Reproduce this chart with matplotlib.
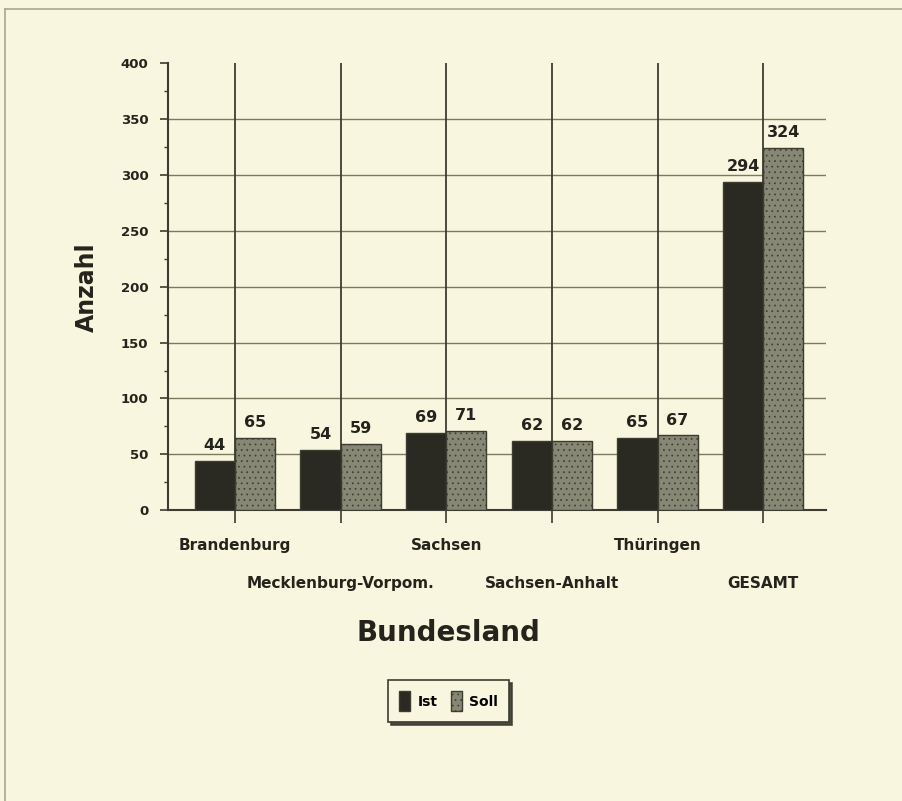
import matplotlib
matplotlib.use("Agg")
import matplotlib.pyplot as plt
import numpy as np
from matplotlib.patches import Patch
from matplotlib.lines import Line2D

categories = ["Brandenburg", "Mecklenburg-Vorpom.", "Sachsen", "Sachsen-Anhalt", "Thüringen", "GESAMT"]
ist = [44, 54, 69, 62, 65, 294]
soll = [65, 59, 71, 62, 67, 324]
yticks = [0, 50, 100, 150, 200, 250, 300, 350, 400]

bg = "#f8f6df"
dark = "#2a2a22"
grey = "#878775"
line = "#3c3c30"
txt = "#24241c"

plt.rcParams['font.family'] = ['DejaVu Sans']
plt.rcParams['hatch.color'] = '#9c9c8a'
plt.rcParams['hatch.linewidth'] = 0.5
fig = plt.figure(figsize=(9.03, 8.01), dpi=100, facecolor=bg)
ax = fig.add_axes([0.186, 0.363, 0.729, 0.558], facecolor=bg)

x = np.arange(len(categories))
w = 0.38
ax.bar(x - w/2, ist, w, color=dark, edgecolor=line, linewidth=1, zorder=3)
ax.bar(x + w/2, soll, w, color=grey, edgecolor=line, linewidth=1, hatch='...', zorder=3)

for xi, v in zip(x - w/2, ist):
    ax.text(xi, v + 7, str(v), ha='center', va='bottom', fontsize=11.5, fontweight='bold', color=txt, zorder=4)
for xi, v in zip(x + w/2, soll):
    ax.text(xi, v + 7, str(v), ha='center', va='bottom', fontsize=11.5, fontweight='bold', color=txt, zorder=4)

ax.set_xlim(-0.634, 5.597)
ax.set_ylim(0, 400)
ax.set_yticks(yticks)
ax.set_yticks(np.arange(0, 401, 25), minor=True)
ax.set_yticklabels([str(t) for t in yticks], fontsize=9.5, fontweight='bold', color=txt)
for t in yticks[1:-1]:
    ax.axhline(t, color='#7a7a5c', linewidth=1.0, zorder=1)
for xi in x:
    ax.axvline(xi, color=line, linewidth=1.3, zorder=2)

ax.set_xticks(x)
ax.set_xticklabels([])
for i, c in enumerate(categories):
    yoff = -0.063 if i % 2 == 0 else -0.148
    ax.text(i, yoff, c, transform=ax.get_xaxis_transform(), ha='center', va='top',
            fontsize=11, fontweight='bold', color=txt)

ax.tick_params(axis='x', direction='out', length=9, width=1.2, color=line)
ax.tick_params(axis='y', which='major', direction='out', length=6, width=1.2, color=line, pad=8)
ax.tick_params(axis='y', which='minor', direction='out', length=3, width=1, color=line)
for s in ['top', 'right']:
    ax.spines[s].set_visible(False)
for s in ['left', 'bottom']:
    ax.spines[s].set_color(line)
    ax.spines[s].set_linewidth(1.5)

ax.set_ylabel("Anzahl", fontsize=17, fontweight='bold', color=txt, labelpad=16)
fig.text(0.497, 0.21, "Bundesland", ha='center', va='center', fontsize=20, fontweight='bold', color=txt)

leg = fig.legend(handles=[Patch(facecolor=dark, edgecolor=line, label='Ist'),
                          Patch(facecolor=grey, edgecolor=line, hatch='...', label='Soll')],
                 loc='center', bbox_to_anchor=(0.497, 0.1245), ncol=2, frameon=True,
                 fancybox=False, shadow={'color': '#3a3a30', 'alpha': 0.9}, handlelength=0.8, handleheight=1.8,
                 handletextpad=0.55, columnspacing=0.9, borderpad=0.8,
                 prop={'weight': 'bold', 'size': 10})
leg.get_frame().set_edgecolor(line)
leg.get_frame().set_facecolor(bg)
leg.get_frame().set_linewidth(1.2)

fig.add_artist(Line2D([0.005, 1.0], [0.989, 0.989], transform=fig.transFigure, color='#a8a890', linewidth=1.2))
fig.add_artist(Line2D([0.005, 0.005], [0.0, 0.989], transform=fig.transFigure, color='#a8a890', linewidth=1.2))

fig.savefig("out.png", dpi=100, facecolor=bg)
